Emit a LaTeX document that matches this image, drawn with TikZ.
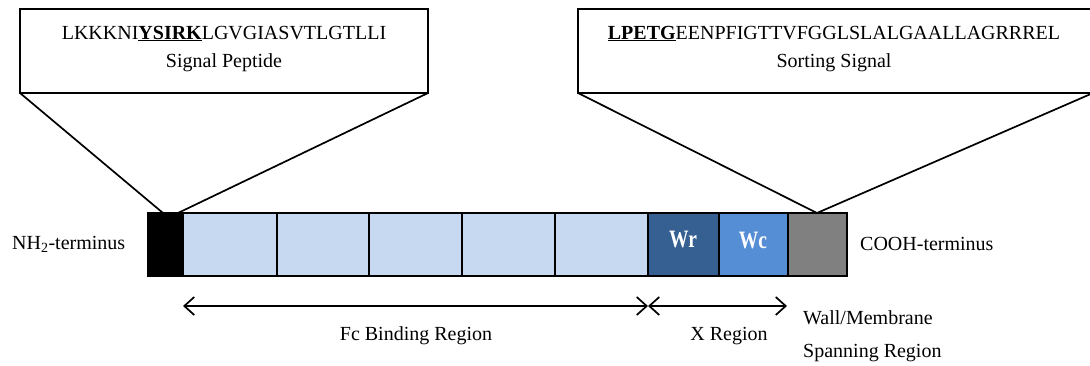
\documentclass[tikz,border=0pt]{standalone}
\usepackage{fontspec}
\setmainfont{Liberation Serif}
\usetikzlibrary{arrows.meta}
\definecolor{cellblue}{HTML}{C6D9F0}
\definecolor{wrblue}{HTML}{366092}
\definecolor{wcblue}{HTML}{558ED5}
\definecolor{spgray}{HTML}{808080}
\begin{document}
\begin{tikzpicture}[x=1pt,y=-1pt,
 lbl/.style={font=\fontsize{20}{24}\selectfont, inner sep=0pt, anchor=base},
 lblw/.style={font=\fontsize{20}{24}\selectfont, inner sep=0pt, anchor=base west},
 cell/.style={draw=black, line width=1.8pt, minimum height=63pt, inner sep=0pt, outer sep=0pt, anchor=north west},
 callbox/.style={draw=black, line width=1.8pt, inner sep=0pt, outer sep=0pt, anchor=north west},
 pin/.style={line width=1.7pt},
 wtext/.style={font=\fontsize{25}{28}\selectfont\bfseries, text=white, inner sep=0pt},
 span/.style={line width=1.7pt, {Straight Barb[length=10pt,width=18pt]}-{Straight Barb[length=10pt,width=18pt]}}
]
\useasboundingbox (0,0) rectangle (1090,365);
\clip (0,0) rectangle (1090,365);
% callout boxes
\node[callbox, minimum width=408pt, minimum height=84pt] (spbox) at (20,9) {};
\node[callbox, minimum width=515pt, minimum height=84pt] (ssbox) at (578,9) {};
\node[lbl] (sptext) at (224,39) {LKKKNI\underline{\textbf{YSIRK}}LGVGIASVTLGTLLI};
\node[lbl] (splabel) at (224,67) {Signal Peptide};
\node[lbl] (sstext) at (834,39) {\underline{\textbf{LPETG}}EENPFIGTTVFGGLSLALGAALLAGRRREL};
\node[lbl] (sslabel) at (834,67) {Sorting Signal};
% bar cells
\node[cell, fill=black, minimum width=35pt] (blk) at (148,213) {};
\node[cell, fill=cellblue, minimum width=94pt] (c1) at (183,213) {};
\node[cell, fill=cellblue, minimum width=92pt] (c2) at (277,213) {};
\node[cell, fill=cellblue, minimum width=93pt] (c3) at (369,213) {};
\node[cell, fill=cellblue, minimum width=93pt] (c4) at (462,213) {};
\node[cell, fill=cellblue, minimum width=93pt] (c5) at (555,213) {};
\node[cell, fill=wrblue, minimum width=71pt] (wr) at (648,213) {};
\node[cell, fill=wcblue, minimum width=69pt] (wc) at (719,213) {};
\node[cell, fill=spgray, minimum width=59pt] (gry) at (788,213) {};
\draw[line width=2.6pt] (blk.north west) rectangle (gry.south east);
\node[wtext, xscale=0.78] (wrt) at (683,239) {Wr};
\node[wtext, xscale=0.78] (wct) at (753,240) {Wc};
% pins
\coordinate (pinA) at (163,213);
\coordinate (pinB) at (178,213);
\coordinate (pinC) at (817,213);
\draw[pin] (spbox.south west) -- (pinA);
\draw[pin] (spbox.south east) -- (pinB);
\draw[pin] (ssbox.south west) -- (pinC);
\draw[pin] (ssbox.south east) -- (pinC);
% terminus labels
\node[lblw] (nh2) at (12,249) {NH\textsubscript{2}-terminus};
\node[lblw] (cooh) at (860,250) {COOH-terminus};
% spans
\coordinate (fcL) at (183,306);
\coordinate (fcR) at (648,306);
\coordinate (xR) at (787,306);
\draw[span] (fcL) -- (fcR);
\draw[span] (fcR) -- (xR);
\node[lbl] (fclbl) at (416,340) {Fc Binding Region};
\node[lbl] (xlbl) at (729,340) {X Region};
\node[lblw] (wall1) at (803,324) {Wall/Membrane};
\node[lblw] (wall2) at (803,357) {Spanning Region};
\end{tikzpicture}
\end{document}
